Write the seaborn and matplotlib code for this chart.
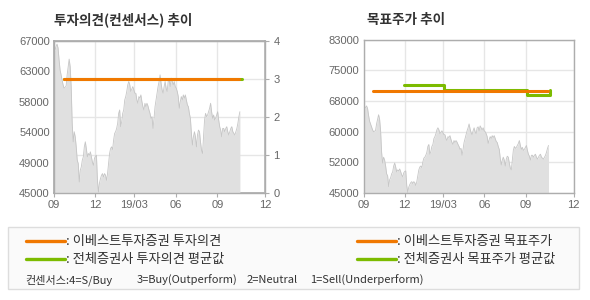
import numpy as np
import matplotlib
matplotlib.use("Agg")
import matplotlib.pyplot as plt
from matplotlib.patches import Rectangle
from matplotlib.lines import Line2D
import seaborn as sns

sns.set_theme(style="white")
plt.rcParams['font.family'] = ['Noto Sans CJK KR', 'DejaVu Sans']

# ---- data ----
tick_pos = [0.0, 0.196, 0.380, 0.576, 0.774, 1.0]
tick_labels = ['09', '12', '19/03', '06', '09', '12']

price = [65500, 65740, 66200, 66560, 66000, 64290, 62830, 62100, 61380, 60650, 60170, 60300,
         60500, 62100, 63300, 64380, 63300, 60400, 55080, 52410, 53870, 53140, 51680, 49750,
         49260, 46600, 48300, 48780, 49750, 50230, 51680, 52410, 51440, 50230, 50720, 50470,
         50960, 50230, 49500, 49000, 49990, 50330, 50470, 46840, 45150, 46450, 47080, 47570,
         47810, 47330, 47810, 47570, 46840, 47810, 49260, 50720, 51440, 51680, 51300, 52660,
         53630, 53870, 54350, 55080, 56530, 57020, 54600, 55320, 56530, 57020, 58470, 58960,
         59690, 60650, 61140, 60650, 59690, 60030, 60400, 59920, 59440, 59440, 58470, 57990,
         58960, 58720, 59200, 58230, 57500, 57020, 57990, 57500, 57990, 57600, 57020, 56530,
         55810, 56050, 54350, 55810, 57500, 58470, 59440, 60400, 61140, 62100, 60890, 59920,
         59440, 60400, 61140, 60170, 59690, 61140, 61380, 60400, 61620, 61140, 60650, 61140,
         60400, 60170, 59690, 58960, 57260, 58230, 58960, 58470, 59200, 58720, 59200, 58470,
         57750, 57500, 56530, 55810, 53630, 51940, 53140, 53870, 53140, 51680, 53390, 54110,
         53870, 52410, 51200, 50720, 53140, 55560, 56530, 56050, 56290, 56770, 57260, 57990,
         56770, 55810, 56290, 55560, 55810, 56290, 56770, 55560, 54600, 54110, 53140, 54350,
         54350, 53870, 54350, 54600, 53870, 53390, 53870, 54350, 54600, 53870, 53630, 53390,
         53870, 54350, 55080, 56050, 56770]
price_end = 0.881

# opinion (left chart, right axis 0-4)
own_opinion_x = [0.0459, 0.878]
own_opinion_y = [3, 3]
avg_opinion_x = [0.0459, 0.891]
avg_opinion_y = [3, 3]

# target price (right chart)
own_target_x = [0.0476, 0.878]
own_target_y = [70300, 70300]
avg_target_x = [0.195, 0.384, 0.778, 0.889]
avg_target_y = [71680, 70600, 69276, 70600]

left_ticks = [45000, 49400, 53800, 58200, 62600, 67000]
left_labels = ['45000', '49000', '54000', '58000', '63000', '67000']
right_ticks = [45000, 52600, 60200, 67800, 75400, 83000]
right_labels = ['45000', '52000', '60000', '68000', '75000', '83000']

consensus_parts = ['컨센서스:4=S/Buy', '3=Buy(Outperform)', '2=Neutral', '1=Sell(Underperform)']

# ---- style ----
ORANGE = '#f07800'
GREEN = '#7cbb00'
FILL = '#e0e0e0'
PLINE = '#c6c6c6'
SPINE = '#adadad'
GRID = '#e6e6e6'
TXT = '#666666'

W, H = 590, 300
fig = plt.figure(figsize=(W / 100, H / 100), dpi=100)
fig.patch.set_facecolor('white')

px = np.linspace(0, price_end, len(price))


def base_axes(rect, ylim, yt, yl):
    ax = fig.add_axes(rect)
    ax.set_facecolor('white')
    ax.fill_between(px, ylim[0], price, color=FILL, lw=0, zorder=1)
    sns.lineplot(x=px, y=price, ax=ax, color=PLINE, lw=0.6, zorder=2)
    ax.set_xlim(0, 1)
    ax.set_ylim(*ylim)
    ax.set_xticks(tick_pos)
    ax.set_xticklabels(tick_labels)
    ax.set_yticks(yt)
    ax.set_yticklabels(yl)
    for s in ax.spines.values():
        s.set_color(SPINE)
        s.set_linewidth(1.0)
    ax.tick_params(axis='x', colors=TXT, labelsize=8, length=3, width=0.8,
                   direction='out', pad=2, color=SPINE, bottom=True)
    ax.tick_params(axis='y', colors=TXT, labelsize=8, length=0, pad=3)
    for lab in ax.get_xticklabels() + ax.get_yticklabels():
        lab.set_family(['Liberation Sans', 'DejaVu Sans'])
    ax.xaxis.grid(True, color=GRID, lw=1, zorder=0)
    ax.set_axisbelow(True)
    return ax


# left chart
axL = base_axes([54 / W, 1 - 193 / H, 211 / W, 152 / H], (45000, 67000), left_ticks, left_labels)
axL.yaxis.grid(False)
axL2 = axL.twinx()
axL2.set_ylim(0, 4)
axL2.set_yticks([0, 1, 2, 3, 4])
axL2.yaxis.grid(True, color=GRID, lw=1)
axL2.tick_params(axis='y', colors=TXT, labelsize=8, length=3, width=0.8, pad=3, color=SPINE)
for lab in axL2.get_yticklabels():
    lab.set_family(['Liberation Sans', 'DejaVu Sans'])
for s in axL2.spines.values():
    s.set_color(SPINE)
axL.set_zorder(axL2.get_zorder() + 1)
axL.patch.set_visible(False)
sns.lineplot(x=avg_opinion_x, y=[45000 + v * 5500 for v in avg_opinion_y], ax=axL,
             color=GREEN, lw=2.2, zorder=3)
sns.lineplot(x=own_opinion_x, y=[45000 + v * 5500 for v in own_opinion_y], ax=axL,
             color=ORANGE, lw=2.2, zorder=4)
axL.set_ylim(45000, 67000)

# right chart
axR = base_axes([363.5 / W, 1 - 193 / H, 210 / W, 153.5 / H], (45000, 83000), right_ticks, right_labels)
axR.yaxis.grid(True, color=GRID, lw=1, zorder=0)
sns.lineplot(x=avg_target_x, y=avg_target_y, ax=axR, color=GREEN, lw=2.2,
             drawstyle='steps-post', zorder=3)
sns.lineplot(x=own_target_x, y=own_target_y, ax=axR, color=ORANGE, lw=2.2, zorder=4)

# titles
fig.text(54 / W, 1 - 20 / H, '투자의견(컨센서스) 추이', fontsize=9.8, fontweight='bold',
         color='#333333', va='center', ha='left')
fig.text(367 / W, 1 - 20 / H, '목표주가 추이', fontsize=9.8, fontweight='bold',
         color='#333333', va='center', ha='left')

# legend box
box = Rectangle((8.3 / W, 1 - 289.3 / H), 571 / W, 62.6 / H, transform=fig.transFigure,
                facecolor='#fafafa', edgecolor='#dddddd', lw=1)
fig.patches.append(box)

legend_items = [
    (26, 241, ORANGE, ': 이베스트투자증권 투자의견'),
    (26, 259, GREEN, ': 전체증권사 투자의견 평균값'),
    (357, 241, ORANGE, ': 이베스트투자증권 목표주가'),
    (357, 259, GREEN, ': 전체증권사 목표주가 평균값'),
]
for x0, y0, c, t in legend_items:
    fig.lines.append(Line2D([x0 / W, (x0 + 39) / W], [1 - y0 / H, 1 - y0 / H],
                            transform=fig.transFigure, color=c, lw=2.4))
    fig.text((x0 + 40) / W, 1 - y0 / H, t, fontsize=9.5, color='#333333', va='center', ha='left')

for xp, t in zip([25, 137, 247, 310], consensus_parts):
    fig.text(xp / W, 1 - 280 / H, t, fontsize=8, color='#333333', va='center', ha='left')

fig.savefig('out.png', dpi=100)
